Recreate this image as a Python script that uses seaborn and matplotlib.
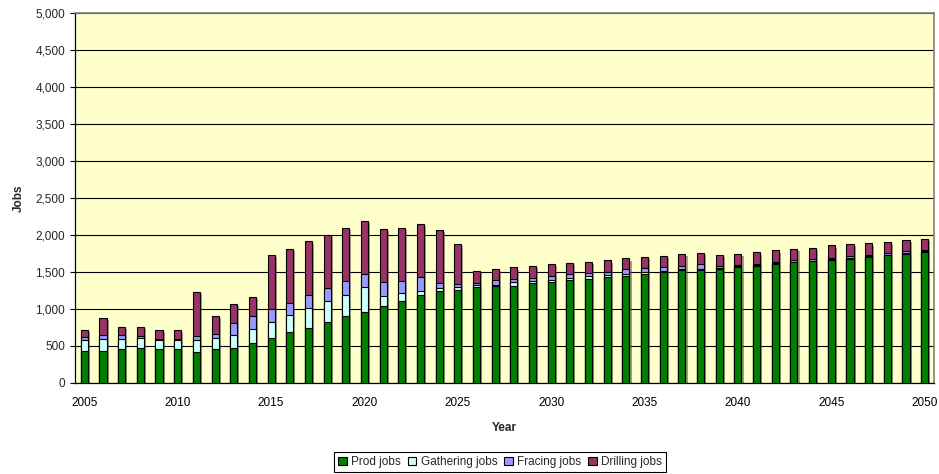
import matplotlib
matplotlib.use("Agg")
import matplotlib.pyplot as plt
import matplotlib.patheffects as pe
from matplotlib.patches import Patch
from matplotlib.ticker import FuncFormatter, FixedLocator
import numpy as np
import pandas as pd
import seaborn as sns

years = list(range(2005, 2051))

prod_jobs = [434, 434, 452, 466, 452, 452, 420, 452, 466, 542,
             610, 680, 742, 819, 900, 958, 1039, 1102, 1183, 1242,
             1260, 1293, 1308, 1312, 1353, 1367, 1389, 1398, 1434, 1448,
             1470, 1497, 1520, 1527, 1538, 1569, 1583, 1601, 1628, 1641,
             1660, 1673, 1705, 1723, 1741, 1768]
gathering_jobs = [145, 158, 145, 140, 127, 127, 154, 154, 176, 190,
                  217, 238, 266, 283, 292, 333, 140, 108, 63, 45,
                  36, 27, 18, 45, 23, 22, 23, 45, 23, 22,
                  32, 18, 18, 18, 18, 9, 9, 14, 10, 10,
                  8, 18, 9, 9, 18, 9]
fracing_jobs = [36, 50, 45, 22, 13, 13, 54, 49, 167, 172,
                167, 162, 184, 185, 189, 180, 184, 171, 180, 63,
                36, 36, 63, 45, 45, 50, 58, 45, 45, 63,
                45, 50, 45, 61, 22, 14, 14, 22, 21, 18,
                14, 27, 18, 18, 18, 13]
drilling_jobs = [99, 230, 108, 122, 122, 122, 606, 249, 253, 253,
                 737, 733, 720, 715, 716, 720, 720, 716, 725, 715,
                 544, 153, 153, 158, 153, 167, 154, 149, 153, 149,
                 149, 149, 162, 155, 154, 153, 157, 153, 150, 153,
                 176, 154, 153, 153, 158, 158]

series_names = ["Prod jobs", "Gathering jobs", "Fracing jobs", "Drilling jobs"]
series_colors = ["#008000", "#CCFFFF", "#9999FF", "#993366"]

df = pd.DataFrame({
    "Year": years,
    "Prod jobs": prod_jobs,
    "Gathering jobs": gathering_jobs,
    "Fracing jobs": fracing_jobs,
    "Drilling jobs": drilling_jobs,
})
# running totals so each layer can be drawn over the taller one
cum = df[series_names].cumsum(axis=1)
cum["Year"] = df["Year"].astype(str)

sns.set_theme(style="white")
plt.rcParams["font.family"] = ["Liberation Sans", "DejaVu Sans"]
plt.rcParams["font.size"] = 8

fig = plt.figure(figsize=(9.39, 4.74), dpi=100)
ax = fig.add_axes([75 / 939, 1 - 382.7 / 474, 859 / 939, (382.7 - 13.3) / 474])
ax.set_facecolor("#FFFFCC")

for i in range(len(series_names) - 1, -1, -1):
    name = series_names[i]
    sns.barplot(data=cum, x="Year", y=name, color=series_colors[i],
                saturation=1, width=0.38, edgecolor="black", linewidth=0.8,
                ax=ax, zorder=3)
    if i == len(series_names) - 1:
        for patch in ax.patches:
            patch.set_path_effects([
                pe.SimplePatchShadow(offset=(1.5, -1.5), shadow_rgbFace="#555555", alpha=0.55),
                pe.Normal(),
            ])

ax.set_xlim(-0.5, len(years) - 0.5)
ax.set_ylim(0, 5000)
ax.set_yticks(np.arange(0, 5001, 500))
ax.yaxis.set_major_formatter(FuncFormatter(lambda v, p: f"{int(v):,}"))
ax.grid(axis="y", color="black", linewidth=0.8, zorder=1)
ax.set_axisbelow(True)

label_pos = [i for i, y in enumerate(years) if y % 5 == 0]
ax.xaxis.set_major_locator(FixedLocator(label_pos))
ax.set_xticklabels([str(years[i]) for i in label_pos])
ax.xaxis.set_minor_locator(FixedLocator(np.arange(-0.5, len(years), 1.0)))
ax.tick_params(axis="x", which="major", length=0, pad=10.5, labelsize=8.5, colors="black")
ax.tick_params(axis="x", which="minor", length=3.5, width=0.8, color="black", direction="out")
ax.tick_params(axis="y", which="major", length=3.5, width=0.8, color="black",
               direction="out", labelsize=8.5, pad=3.5, left=True)

for side in ["top", "right"]:
    ax.spines[side].set_color("#808080")
    ax.spines[side].set_linewidth(1.2)
for side in ["left", "bottom"]:
    ax.spines[side].set_color("black")
    ax.spines[side].set_linewidth(0.9)

ax.set_xlabel("Year", fontweight="bold", fontsize=8.5, labelpad=9)
ax.set_ylabel("Jobs", fontweight="bold", fontsize=8.5, labelpad=8)

handles = [Patch(facecolor=c, edgecolor="black", linewidth=0.8) for c in series_colors]
leg = fig.legend(handles, series_names, loc="center", bbox_to_anchor=(500 / 939, 1 - 462 / 474),
                 ncol=4, frameon=True, fancybox=False, edgecolor="black", framealpha=1,
                 fontsize=8.5, handlelength=0.75, handleheight=0.75, handletextpad=0.35,
                 columnspacing=0.6, borderpad=0.3)
leg.get_frame().set_linewidth(0.8)

fig.savefig("out.png", dpi=100, facecolor="white")
